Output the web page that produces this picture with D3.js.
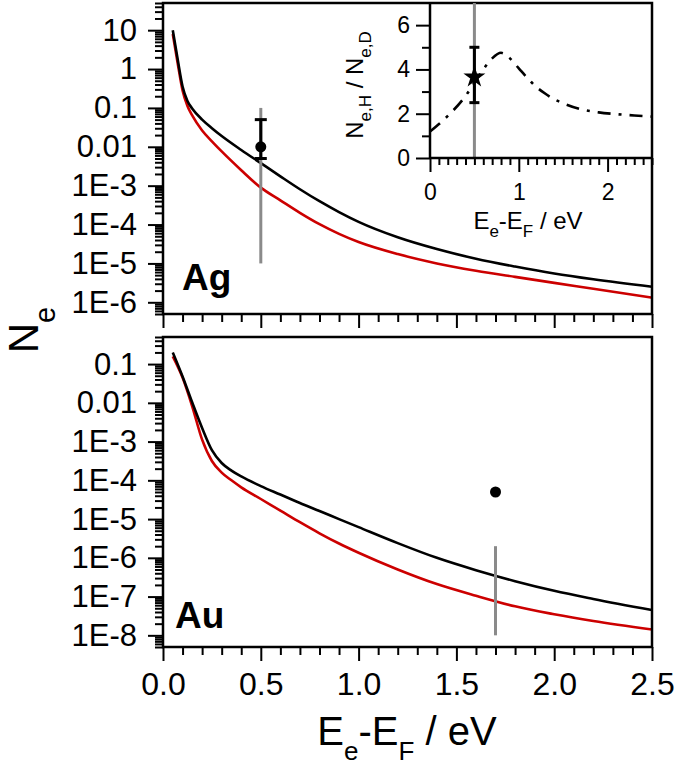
<!DOCTYPE html>
<html><head><meta charset="utf-8">
<script src="https://cdn.jsdelivr.net/npm/d3@7"></script>
<style>
body{margin:0;background:#fff}
svg{display:block;font-family:"Liberation Sans",Arial,sans-serif}
text{white-space:pre}
</style>
</head><body>
<svg id="chart" width="677" height="765"></svg>
<script>
// ---------- data ----------
const agEnergy = [0.05,0.075,0.10,0.125,0.15,0.20,0.25,0.30,0.40,0.50,0.60,0.70,0.80,0.90,1.00,1.20,1.40,1.60,1.80,2.00,2.20,2.50];
const agBlack  = [10,1.78,0.355,0.151,0.0955,0.05,0.0302,0.019,8.3e-3,3.8e-3,1.74e-3,8.1e-4,3.98e-4,2.09e-4,1.17e-4,4.7e-5,2.34e-5,1.32e-5,8.3e-6,5.5e-6,3.9e-6,2.5e-6];
const agRed    = [7.94,1.41,0.282,0.112,0.063,0.0263,0.0138,7.6e-3,2.5e-3,8.9e-4,4.2e-4,2.0e-4,1.02e-4,5.75e-5,3.55e-5,1.74e-5,1.0e-5,6.5e-6,4.5e-6,3.16e-6,2.24e-6,1.32e-6];

const auEnergy = [0.05,0.10,0.15,0.20,0.25,0.30,0.35,0.40,0.50,0.60,0.70,0.80,0.90,1.00,1.20,1.40,1.60,1.80,2.00,2.20,2.50];
const auBlack  = [0.2,0.048,0.01,2.24e-3,6.0e-4,2.8e-4,1.78e-4,1.26e-4,7.1e-5,4.3e-5,2.6e-5,1.62e-5,1.0e-5,6.2e-6,2.4e-6,1.0e-6,4.8e-7,2.5e-7,1.41e-7,8.7e-8,4.5e-8];
const auRed    = [0.158,0.0447,7.9e-3,1.12e-3,3.16e-4,1.58e-4,1.0e-4,6.6e-5,3.3e-5,1.66e-5,8.3e-6,4.3e-6,2.34e-6,1.35e-6,5.0e-7,2.1e-7,1.05e-7,5.6e-8,3.5e-8,2.34e-8,1.41e-8];

// measured points: [energy, value, errLow, errHigh], gray bar [energy, from, to]
const agPoint = [0.5, 0.01, 0.005, 0.05];
const agGray  = [0.5, 1e-5, 0.1];
const auPoint = [1.7, 5e-5];
const auGray  = [1.7, 1e-8, 2e-6];

// inset ratio N_e,H / N_e,D
const ratioEnergy = [0.0,0.2,0.4,0.5,0.6,0.7,0.8,0.9,1.0,1.1,1.2,1.3,1.4,1.5,1.7,1.9,2.1,2.3,2.5];
const ratioValue  = [1.2,1.9,2.8,3.4,4.0,4.5,4.75,4.5,4.05,3.6,3.2,2.9,2.65,2.47,2.2,2.06,1.98,1.92,1.87];
const ratioPoint  = [0.5, 3.65, 2.5, 5.0];
const ratioGray   = [0.5, 0, 7];

// ticks
const agTickValues = [10,1,0.1,0.01,1e-3,1e-4,1e-5,1e-6];
const agTickLabels = ["10","1","0.1","0.01","1E-3","1E-4","1E-5","1E-6"];
const auTickValues = [0.1,0.01,1e-3,1e-4,1e-5,1e-6,1e-7,1e-8];
const auTickLabels = ["0.1","0.01","1E-3","1E-4","1E-5","1E-6","1E-7","1E-8"];
const xTickValues  = [0,0.5,1.0,1.5,2.0,2.5];
const xTickLabels  = ["0.0","0.5","1.0","1.5","2.0","2.5"];
const insetXTicks  = [0,1,2];
const insetYTicks  = [0,2,4,6];
const insetYMinor  = [1,3,5];

// ---------- layout ----------
const L = 163, R = 652;
const T1 = 3, B1 = 314, T2 = 337, B2 = 647;
const IL = 430, IR = 652, IT = 3, IB = 158;
const RED = "#cc0000", GRAY = "#8a8a8a";

const svg = d3.select("#chart");

const x = d3.scaleLinear().domain([0, 2.5]).range([L, R]);
const yAg = d3.scaleLog().domain([5e-7, 50]).range([B1, T1]);
const yAu = d3.scaleLog().domain([5e-9, 0.5]).range([B2, T2]);
const xi = d3.scaleLinear().domain([0, 2.5]).range([IL, IR]);
const yi = d3.scaleLinear().domain([0, 7]).range([IB, IT]);

function logMinors(scale) {
  const [a, b] = scale.domain();
  const out = [];
  for (let e = Math.floor(Math.log10(a)); e <= Math.ceil(Math.log10(b)); e++) {
    for (let k = 2; k <= 9; k++) {
      const v = k * Math.pow(10, e);
      if (v >= a && v <= b) out.push(v);
    }
  }
  return out;
}
const xMinor = d3.range(0, 26).map(i => i / 10).filter(v => Math.abs(v * 2 - Math.round(v * 2)) > 1e-6);
const xiMinor = d3.range(0, 26).map(i => i / 10).filter(v => Math.abs(v - Math.round(v)) > 1e-6);

function style(g, fs) {
  g.select(".domain").remove();
  g.attr("font-family", null).attr("font-size", null);
  g.selectAll("line").attr("stroke", "#000").attr("stroke-width", 2);
  g.selectAll("text").attr("font-size", fs).attr("fill", "#000");
  return g;
}

// ---------- axes ----------
style(svg.append("g").attr("transform", `translate(${L},0)`)
  .call(d3.axisLeft(yAg).tickValues(agTickValues).tickFormat((d, i) => agTickLabels[i]).tickSize(15).tickPadding(11)), 31);
style(svg.append("g").attr("transform", `translate(${L},0)`)
  .call(d3.axisLeft(yAg).tickValues(logMinors(yAg)).tickFormat("").tickSize(8)), 31);
style(svg.append("g").attr("transform", `translate(0,${B1})`)
  .call(d3.axisBottom(x).tickValues(xTickValues).tickFormat("").tickSize(14)), 31);
style(svg.append("g").attr("transform", `translate(0,${B1})`)
  .call(d3.axisBottom(x).tickValues(xMinor).tickFormat("").tickSize(8)), 31);
style(svg.append("g").attr("transform", `translate(${L},0)`)
  .call(d3.axisLeft(yAu).tickValues(auTickValues).tickFormat((d, i) => auTickLabels[i]).tickSize(15).tickPadding(11)), 31);
style(svg.append("g").attr("transform", `translate(${L},0)`)
  .call(d3.axisLeft(yAu).tickValues(logMinors(yAu)).tickFormat("").tickSize(8)), 31);
style(svg.append("g").attr("transform", `translate(0,${B2})`)
  .call(d3.axisBottom(x).tickValues(xTickValues).tickFormat((d, i) => xTickLabels[i]).tickSize(14).tickPadding(11)), 32);
style(svg.append("g").attr("transform", `translate(0,${B2})`)
  .call(d3.axisBottom(x).tickValues(xMinor).tickFormat("").tickSize(8)), 32);

// ---------- curves ----------
function drawCurve(xs, ys, yScale, color) {
  const line = d3.line().x((d, i) => x(xs[i])).y(d => yScale(d)).curve(d3.curveMonotoneX);
  svg.append("path").attr("d", line(ys)).attr("fill", "none")
    .attr("stroke", color).attr("stroke-width", 2.6).attr("stroke-linejoin", "round");
}
drawCurve(agEnergy, agRed, yAg, RED);
drawCurve(agEnergy, agBlack, yAg, "#000");
drawCurve(auEnergy, auRed, yAu, RED);
drawCurve(auEnergy, auBlack, yAu, "#000");

// gray bars
svg.append("line").attr("x1", x(agGray[0])).attr("x2", x(agGray[0]))
  .attr("y1", yAg(agGray[1])).attr("y2", yAg(agGray[2])).attr("stroke", GRAY).attr("stroke-width", 3);
svg.append("line").attr("x1", x(auGray[0])).attr("x2", x(auGray[0]))
  .attr("y1", yAu(auGray[1])).attr("y2", yAu(auGray[2])).attr("stroke", GRAY).attr("stroke-width", 3);

function errorBar(px, lo, hi, cap) {
  const g = svg.append("g").attr("stroke", "#000").attr("stroke-width", 3);
  g.append("line").attr("x1", px).attr("x2", px).attr("y1", lo).attr("y2", hi);
  g.append("line").attr("x1", px - cap).attr("x2", px + cap).attr("y1", lo).attr("y2", lo);
  g.append("line").attr("x1", px - cap).attr("x2", px + cap).attr("y1", hi).attr("y2", hi);
}
errorBar(x(agPoint[0]), yAg(agPoint[2]), yAg(agPoint[3]), 6);
svg.append("circle").attr("cx", x(agPoint[0])).attr("cy", yAg(agPoint[1])).attr("r", 5.5).attr("fill", "#000");
svg.append("circle").attr("cx", x(auPoint[0])).attr("cy", yAu(auPoint[1])).attr("r", 5.5).attr("fill", "#000");

// frames
svg.append("rect").attr("x", L).attr("y", T1).attr("width", R - L).attr("height", B1 - T1)
  .attr("fill", "none").attr("stroke", "#000").attr("stroke-width", 2.5);
svg.append("rect").attr("x", L).attr("y", T2).attr("width", R - L).attr("height", B2 - T2)
  .attr("fill", "none").attr("stroke", "#000").attr("stroke-width", 2.5);

// panel labels
svg.append("text").attr("x", 182).attr("y", 290).attr("font-size", 37).attr("font-weight", "bold").text("Ag");
svg.append("text").attr("x", 175).attr("y", 628).attr("font-size", 37).attr("font-weight", "bold").text("Au");

// ---------- inset ----------
svg.append("line").attr("x1", xi(ratioGray[0])).attr("x2", xi(ratioGray[0]))
  .attr("y1", yi(ratioGray[1])).attr("y2", yi(ratioGray[2])).attr("stroke", GRAY).attr("stroke-width", 3);
const iline = d3.line().x((d, i) => xi(ratioEnergy[i])).y(d => yi(d)).curve(d3.curveMonotoneX);
svg.append("path").attr("d", iline(ratioValue)).attr("fill", "none").attr("stroke", "#000")
  .attr("stroke-width", 2.6).attr("stroke-dasharray", "13,8,3,8");
errorBar(xi(ratioPoint[0]), yi(ratioPoint[2]), yi(ratioPoint[3]), 5);
svg.append("path").attr("d", d3.symbol(d3.symbolStar, 150)())
  .attr("transform", `translate(${xi(ratioPoint[0])},${yi(ratioPoint[1])})`).attr("fill", "#000");

style(svg.append("g").attr("transform", `translate(${IL},0)`)
  .call(d3.axisLeft(yi).tickValues(insetYTicks).tickFormat(d3.format("d")).tickSize(14).tickPadding(6)), 23);
style(svg.append("g").attr("transform", `translate(${IL},0)`)
  .call(d3.axisLeft(yi).tickValues(insetYMinor).tickFormat("").tickSize(8)), 23);
style(svg.append("g").attr("transform", `translate(0,${IB})`)
  .call(d3.axisBottom(xi).tickValues(insetXTicks).tickFormat(d3.format("d")).tickSize(14).tickPadding(12)), 23);
style(svg.append("g").attr("transform", `translate(0,${IB})`)
  .call(d3.axisBottom(xi).tickValues(xiMinor).tickFormat("").tickSize(7)), 23);
svg.append("line").attr("x1", IL).attr("x2", IL).attr("y1", IT).attr("y2", IB).attr("stroke", "#000").attr("stroke-width", 2.5);
svg.append("line").attr("x1", IL).attr("x2", IR).attr("y1", IB).attr("y2", IB).attr("stroke", "#000").attr("stroke-width", 2.5);

// ---------- titles ----------
function subTitle(parent, parts, big, small, drop) {
  let prevSub = false;
  parts.forEach(([t, sub]) => {
    const ts = parent.append("tspan").text(t).attr("font-size", sub ? small : big);
    if (sub && !prevSub) ts.attr("dy", drop);
    if (!sub && prevSub) ts.attr("dy", -drop);
    prevSub = sub;
  });
}
const xt = svg.append("text").attr("x", 407).attr("y", 745).attr("text-anchor", "middle");
subTitle(xt, [["E", false], ["e", true], ["-E", false], ["F", true], [" / eV", false]], 40, 26, 15);

const yt = svg.append("text").attr("transform", "translate(38,330) rotate(-90)").attr("text-anchor", "middle");
subTitle(yt, [["N", false], ["e", true]], 42, 29, 17);

const ixt = svg.append("text").attr("x", 528).attr("y", 229).attr("text-anchor", "middle");
subTitle(ixt, [["E", false], ["e", true], ["-E", false], ["F", true], [" / eV", false]], 24, 17, 8);

const iyt = svg.append("text").attr("transform", "translate(363,85) rotate(-90)").attr("text-anchor", "middle");
subTitle(iyt, [["N", false], ["e,H", true], [" / N", false], ["e,D", true]], 24, 17, 8);
</script>
</body></html>
